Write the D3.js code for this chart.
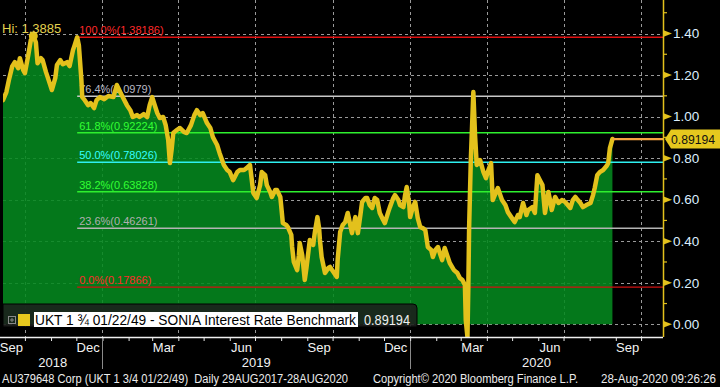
<!DOCTYPE html>
<html><head><meta charset="utf-8">
<script src="https://cdn.jsdelivr.net/npm/d3@7"></script>
<style>
html,body{margin:0;padding:0;background:#000;overflow:hidden}
svg{display:block}
text{font-family:"Liberation Sans",Arial,sans-serif}
</style></head><body>
<svg id="c" width="720" height="387"></svg>
<script>
// ---------------- data ----------------
const dates = [
"2018-09-05","2018-09-09","2018-09-12","2018-09-16","2018-09-19","2018-09-23","2018-09-25","2018-09-29",
"2018-10-01","2018-10-05","2018-10-08","2018-10-11","2018-10-14","2018-10-16","2018-10-20","2018-10-22","2018-10-26","2018-10-28",
"2018-11-02","2018-11-06","2018-11-08","2018-11-12","2018-11-15","2018-11-20","2018-11-23","2018-11-27","2018-11-29",
"2018-12-02","2018-12-04","2018-12-07","2018-12-08","2018-12-11","2018-12-15","2018-12-18","2018-12-22","2018-12-25","2018-12-29",
"2019-01-03","2019-01-08","2019-01-14","2019-01-18","2019-01-22","2019-01-25","2019-01-30",
"2019-02-03","2019-02-06","2019-02-11","2019-02-14","2019-02-19","2019-02-23","2019-02-26",
"2019-03-01","2019-03-04","2019-03-07","2019-03-10","2019-03-14","2019-03-17","2019-03-20","2019-03-22","2019-03-24","2019-03-26","2019-03-30",
"2019-04-03","2019-04-08","2019-04-11","2019-04-16","2019-04-20","2019-04-23","2019-04-27","2019-04-30",
"2019-05-05","2019-05-09","2019-05-12","2019-05-17","2019-05-20","2019-05-25","2019-05-29",
"2019-06-01","2019-06-05","2019-06-10","2019-06-13","2019-06-18","2019-06-21","2019-06-25","2019-06-29",
"2019-07-03","2019-07-07","2019-07-09","2019-07-13","2019-07-15","2019-07-19","2019-07-21","2019-07-25","2019-07-27","2019-07-31",
"2019-08-03","2019-08-07","2019-08-09","2019-08-13","2019-08-14","2019-08-16","2019-08-20","2019-08-22","2019-08-23","2019-08-26","2019-08-29","2019-08-31",
"2019-09-04","2019-09-08","2019-09-10","2019-09-13","2019-09-15","2019-09-16","2019-09-18","2019-09-22","2019-09-26","2019-09-28",
"2019-10-02","2019-10-06","2019-10-07","2019-10-10","2019-10-13","2019-10-16","2019-10-19","2019-10-22","2019-10-24","2019-10-28","2019-10-31",
"2019-11-03","2019-11-05","2019-11-09","2019-11-11","2019-11-14","2019-11-17","2019-11-20","2019-11-23","2019-11-26","2019-11-30",
"2019-12-02","2019-12-06","2019-12-08","2019-12-12","2019-12-14","2019-12-18","2019-12-20","2019-12-24","2019-12-26","2019-12-28","2019-12-31",
"2020-01-01","2020-01-04","2020-01-07","2020-01-10","2020-01-13","2020-01-16","2020-01-19","2020-01-22","2020-01-26","2020-01-28","2020-01-31",
"2020-02-03","2020-02-06","2020-02-08","2020-02-11","2020-02-15","2020-02-17","2020-02-22","2020-02-26","2020-02-29",
"2020-03-03","2020-03-06","2020-03-07","2020-03-09","2020-03-10","2020-03-11","2020-03-13","2020-03-16","2020-03-18","2020-03-20","2020-03-24","2020-03-28","2020-03-31",
"2020-04-02","2020-04-06","2020-04-08","2020-04-12","2020-04-14","2020-04-19","2020-04-23","2020-04-26","2020-04-30",
"2020-05-04","2020-05-08","2020-05-10","2020-05-14","2020-05-18","2020-05-20","2020-05-25","2020-05-28","2020-05-31",
"2020-06-03","2020-06-06","2020-06-09","2020-06-13","2020-06-15","2020-06-17","2020-06-21","2020-06-25","2020-06-29",
"2020-07-03","2020-07-09","2020-07-12","2020-07-15","2020-07-18","2020-07-21","2020-07-24","2020-07-28",
"2020-08-02","2020-08-05","2020-08-07","2020-08-10","2020-08-13","2020-08-17","2020-08-21","2020-08-23","2020-08-25","2020-08-28"
];
const values = [
1.079,1.118,1.176,1.243,1.262,1.233,1.281,1.224,
1.209,1.296,1.368,1.3885,1.358,1.257,1.281,1.272,1.214,1.190,
1.128,1.185,1.248,1.272,1.252,1.262,1.243,1.320,1.344,
1.38186,1.344,1.176,1.094,1.079,1.055,1.065,1.041,1.079,1.094,
1.084,1.099,1.094,1.152,1.118,1.094,1.055,
1.031,0.998,1.007,0.998,1.012,0.998,1.055,
1.094,1.055,1.017,0.993,0.998,0.959,0.887,0.776,0.839,0.921,0.935,
0.945,0.925,0.921,0.959,1.007,1.031,1.007,1.017,
0.969,0.945,0.901,0.863,0.824,0.767,0.743,
0.733,0.694,0.733,0.743,0.743,0.752,0.767,0.632,
0.608,0.670,0.733,0.718,0.670,0.637,0.613,0.646,0.646,0.613,
0.487,0.478,0.468,0.430,0.372,0.300,0.261,0.333,0.391,0.333,0.213,0.271,
0.406,0.382,0.444,0.516,0.463,0.406,0.324,0.247,0.271,0.276,
0.252,0.228,0.309,0.444,0.478,0.492,0.536,0.478,0.439,0.516,0.439,
0.526,0.589,0.608,0.608,0.574,0.560,0.608,0.598,0.536,0.502,
0.487,0.540,0.564,0.608,0.622,0.598,0.574,0.564,0.622,0.661,0.574,
0.516,0.560,0.589,0.512,0.468,0.463,0.454,0.372,0.358,0.324,0.358,
0.372,0.333,0.309,0.367,0.319,0.295,0.261,0.247,0.223,
0.213,0.189,0.021,-0.061,0.165,0.468,0.791,1.118,0.911,0.767,0.791,0.733,0.704,
0.733,0.776,0.598,0.637,0.656,0.598,0.574,0.540,0.516,
0.492,0.526,0.516,0.584,0.526,0.550,0.564,0.536,0.718,
0.694,0.670,0.536,0.637,0.598,0.550,0.613,0.584,0.598,
0.589,0.560,0.598,0.613,0.598,0.584,0.564,0.574,
0.584,0.622,0.656,0.718,0.733,0.743,0.762,0.776,0.848,0.89194
];
const yTicks = [0, 0.2, 0.4, 0.6, 0.8, 1.0, 1.2, 1.4];
const yMinorTicks = [0.1, 0.3, 0.5, 0.7, 0.9, 1.1, 1.3, 1.5];
const monthLabels = ["Sep","Dec","Mar","Jun","Sep","Dec","Mar","Jun","Sep"];
const monthLabelDates = ["2018-09-15","2018-12-15","2019-03-15","2019-06-15","2019-09-15","2019-12-15","2020-03-15","2020-06-15","2020-09-15"];
const yearLabels = ["2018","2019","2020"];
const yearStarts = ["2018-01-01","2019-01-01","2020-01-01"];
const fibPct = ["100.0%","76.4%","61.8%","50.0%","38.2%","23.6%","0.0%"];
const fibValues = [1.38186, 1.0979, 0.92224, 0.78026, 0.63828, 0.46261, 0.17866];
const fibLineColors = ["#e01010","#c8c8c8","#2ef02e","#2ef0f0","#2ef02e","#b4b4b4","#d01010"];
const fibTextColors = ["#ff2a2a","#b8b8c4","#33ff33","#33ffff","#33ff33","#b0b0b0","#ff2a2a"];
const fibStart = "2018-12-02";
const hiLabel = "Hi: 1.3885";
const hiDate = "2018-10-11", hiValue = 1.3885;
const lastValue = 0.89194;
const seriesName = "UKT 1 \u00be 01/22/49 - SONIA Interest Rate Benchmark";
const footerLeft = "AU379648 Corp (UKT 1 3/4 01/22/49)  Daily 29AUG2017-28AUG2020";
const footerMid = "Copyright\u00a9 2020 Bloomberg Finance L.P.";
const footerRight = "28-Aug-2020 09:26:26";

// ---------------- chart ----------------
const parse = d3.utcParse("%Y-%m-%d");
const data = dates.map((d, i) => ({date: parse(d), value: values[i]}));
const svg = d3.select("#c");
const W = 720, H = 387;
const L = 3, R = 663, T = 0, B = 337;

const x = d3.scaleUtc().domain([parse("2018-09-05"), parse("2020-10-27")]).range([L, R]);
const y = d3.scaleLinear().domain([0, 1.4]).range([324.3, 33.5]);

svg.append("rect").attr("width", W).attr("height", H).attr("fill", "#000");

svg.append("defs").append("clipPath").attr("id", "plotclip")
  .append("rect").attr("x", L).attr("y", T).attr("width", R - L).attr("height", B - T);

const plot = svg.append("g").attr("clip-path", "url(#plotclip)");

// grid
const quarterStarts = d3.utcMonth.range(x.domain()[0], x.domain()[1]).filter(d => d.getUTCMonth() % 3 === 0);
plot.append("g").selectAll("line").data(yTicks).join("line")
  .attr("x1", L).attr("x2", R).attr("y1", d => Math.round(y(d)) + 0.5).attr("y2", d => Math.round(y(d)) + 0.5)
  .attr("stroke", "#9a9a9a").attr("stroke-width", 1).attr("stroke-dasharray", "3,3");
plot.append("g").selectAll("line").data(quarterStarts).join("line")
  .attr("x1", d => Math.round(x(d)) + 0.5).attr("x2", d => Math.round(x(d)) + 0.5).attr("y1", T).attr("y2", B)
  .attr("stroke", "#9a9a9a").attr("stroke-width", 1).attr("stroke-dasharray", "3,3");

// area
const area = d3.area().x(d => x(d.date)).y0(y(0)).y1(d => y(d.value));
plot.append("path").datum(data).attr("d", area).attr("fill", "#05891f").attr("fill-opacity", 0.88);

// fib lines
const fx0 = x(parse(fibStart));
fibValues.forEach((v, i) => {
  plot.append("line").attr("x1", fx0).attr("x2", R).attr("y1", y(v)).attr("y2", y(v))
    .attr("stroke", fibLineColors[i]).attr("stroke-width", i === 6 ? 1.2 : 1.6);
  plot.append("text").attr("x", fx0 + 2).attr("y", y(v) - 3)
    .attr("fill", fibTextColors[i]).attr("font-size", 11)
    .text(fibPct[i] + "(" + v + ")");
});

// line
const line = d3.line().x(d => x(d.date)).y(d => y(d.value));
plot.append("path").datum(data).attr("d", line).attr("fill", "none")
  .attr("stroke", "#e3c11c").attr("stroke-width", 4.5).attr("stroke-linejoin", "round").attr("stroke-linecap", "round");

// hi marker
plot.append("circle").attr("cx", x(parse(hiDate))).attr("cy", y(hiValue)).attr("r", 4.5).attr("fill", "#e3c11c");
svg.append("text").attr("x", 2).attr("y", 33).attr("fill", "#e4d24e").attr("font-size", 13).text(hiLabel);

// last value connector
const lastD = data[data.length - 1];
svg.append("line").attr("x1", x(lastD.date)).attr("x2", R).attr("y1", y(lastValue)).attr("y2", y(lastValue))
  .attr("stroke", "#f5a442").attr("stroke-width", 2.2);

// legend
const lg = svg.append("g");
lg.append("path").attr("d", `M${L},304 H413 Q417,304 417,308 V327 H${L} Z`)
  .attr("fill", "rgba(28,30,28,0.88)").attr("stroke", "#000").attr("stroke-width", 1);
lg.append("rect").attr("x", 8.5).attr("y", 316.5).attr("width", 7).attr("height", 7).attr("fill", "none").attr("stroke", "#8a8a8a");
lg.append("path").attr("d", "M10,320 H14 M12,318 V322").attr("stroke", "#8a8a8a").attr("stroke-width", 1);
lg.append("rect").attr("x", 18).attr("y", 314).attr("width", 12).attr("height", 12).attr("fill", "#e6c81e");
lg.append("rect").attr("x", 34).attr("y", 312).attr("width", 324).attr("height", 15).attr("fill", "#fff");
lg.append("text").attr("x", 35).attr("y", 325).attr("fill", "#000").attr("font-size", 14)
  .attr("textLength", 321).attr("lengthAdjust", "spacingAndGlyphs").text(seriesName);
lg.append("text").attr("x", 364).attr("y", 325).attr("fill", "#f0f0f0").attr("font-size", 14)
  .attr("textLength", 46).attr("lengthAdjust", "spacingAndGlyphs").text(d3.format(".5f")(lastValue));

// right axis
const ax = svg.append("g").attr("transform", `translate(${R},0)`)
  .call(d3.axisRight(y).tickValues(yTicks).tickSize(0).tickPadding(10).tickFormat(d3.format(".2f")));
ax.select(".domain").remove();
ax.selectAll("text").attr("fill", "#dcefff").attr("font-size", 13.5).attr("font-family", '"Liberation Sans",Arial,sans-serif');
svg.append("line").attr("x1", R + 0.5).attr("x2", R + 0.5).attr("y1", 0).attr("y2", B).attr("stroke", "#e3c11c").attr("stroke-width", 1.5);
svg.append("g").selectAll("path").data(yTicks).join("path")
  .attr("d", d => `M${R},${y(d) - 3.5} L${R + 9},${y(d)} L${R},${y(d) + 3.5} Z`).attr("fill", "#e3c11c");
svg.append("g").selectAll("line").data(yMinorTicks).join("line")
  .attr("x1", R).attr("x2", R + 4).attr("y1", d => y(d)).attr("y2", d => y(d)).attr("stroke", "#e3c11c").attr("stroke-width", 1.2);

// last value tag
const ly = y(lastValue);
svg.append("path").attr("d", `M${R + 2},${ly} L${R + 8},${ly - 9.5} H720 V${ly + 9.5} H${R + 8} Z`).attr("fill", "#e6c81e");
svg.append("text").attr("x", R + 8).attr("y", ly + 5).attr("fill", "#111").attr("font-size", 13)
  .attr("textLength", 44).attr("lengthAdjust", "spacingAndGlyphs").text(d3.format(".5f")(lastValue));

// bottom axis
const bx = svg.append("g").attr("transform", `translate(0,${B})`)
  .call(d3.axisBottom(x).ticks(d3.utcMonth.every(1)).tickSize(4).tickSizeOuter(0).tickFormat(""));
bx.select(".domain").remove();
bx.selectAll(".tick line").attr("stroke", "#e8e8e8");
svg.append("line").attr("x1", 0).attr("x2", R).attr("y1", B + 0.5).attr("y2", B + 0.5).attr("stroke", "#f0f0f0").attr("stroke-width", 1.5);

svg.append("g").selectAll("text").data(monthLabels).join("text")
  .attr("x", (d, i) => x(parse(monthLabelDates[i]))).attr("y", 352)
  .attr("text-anchor", "middle").attr("fill", "#f2f2f2").attr("font-size", 13).text(d => d);

const yrBounds = [x.range()[0], x(parse(yearStarts[1])), x(parse(yearStarts[2])), x.range()[1]];
svg.append("g").selectAll("text").data(yearLabels).join("text")
  .attr("x", (d, i) => (yrBounds[i] + yrBounds[i + 1]) / 2).attr("y", 367)
  .attr("text-anchor", "middle").attr("fill", "#f2f2f2").attr("font-size", 13).text(d => d);
svg.append("g").selectAll("line").data(yearStarts.slice(1)).join("line")
  .attr("x1", d => Math.round(x(parse(d))) + 0.5).attr("x2", d => Math.round(x(parse(d))) + 0.5)
  .attr("y1", 341).attr("y2", 369).attr("stroke", "#8a8a8a").attr("stroke-width", 1);

// footer
svg.append("text").attr("x", 2).attr("y", 383).attr("fill", "#ececec").attr("font-size", 12).attr("xml:space", "preserve")
  .attr("textLength", 346).attr("lengthAdjust", "spacingAndGlyphs").text(footerLeft);
svg.append("text").attr("x", 373).attr("y", 383).attr("fill", "#ececec").attr("font-size", 12)
  .attr("textLength", 205).attr("lengthAdjust", "spacingAndGlyphs").text(footerMid);
svg.append("text").attr("x", 601).attr("y", 383).attr("fill", "#ececec").attr("font-size", 12)
  .attr("textLength", 115).attr("lengthAdjust", "spacingAndGlyphs").text(footerRight);
</script>
</body></html>
